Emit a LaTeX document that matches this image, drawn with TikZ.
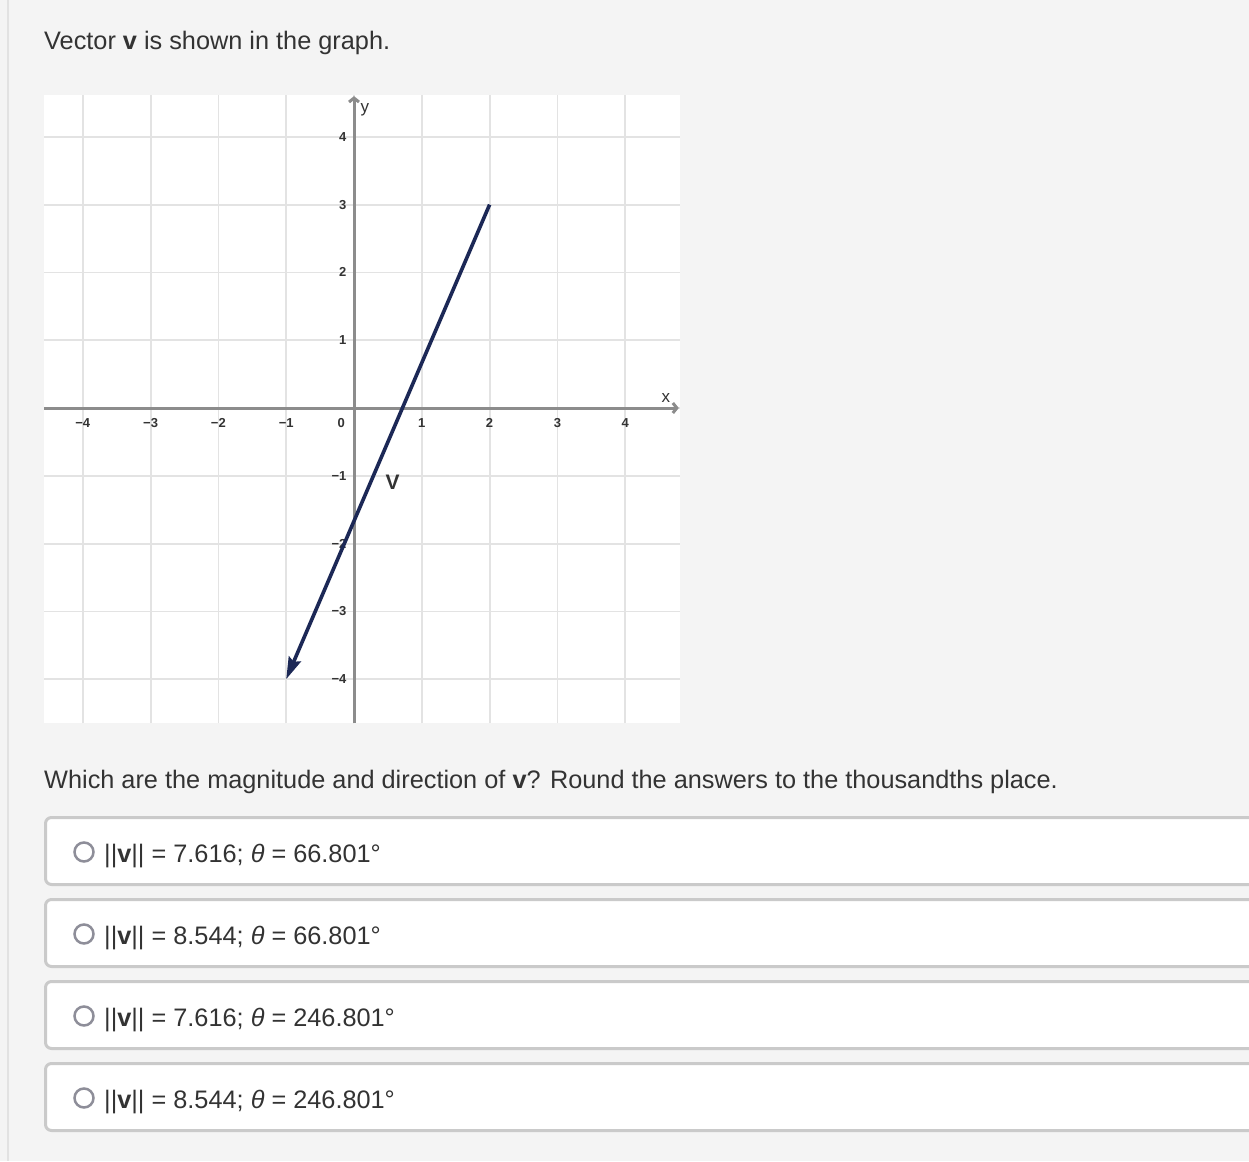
\documentclass[tikz,border=0pt]{standalone}
\usepackage{fontspec}
\setmainfont{Liberation Sans}
\usetikzlibrary{arrows.meta}
\definecolor{pagebg}{HTML}{F4F4F4}
\definecolor{pageedge}{HTML}{E2E2E2}
\definecolor{txt}{HTML}{333333}
\definecolor{gridgray}{HTML}{E3E3E3}
\definecolor{axisgray}{HTML}{8C8C8C}
\definecolor{vecblue}{HTML}{1C2856}
\definecolor{boxline}{HTML}{CACACA}
\definecolor{radiogray}{HTML}{8E8E99}
\begin{document}
\begin{tikzpicture}[x=1pt,y=-1pt,
  every node/.style={text=txt,inner sep=0pt},
  big/.style={font=\fontsize{25.3}{29}\selectfont},
  tick/.style={font=\fontsize{13}{13}\selectfont\bfseries},
  gridline/.style={gridgray,line width=1.8pt},
  axisline/.style={axisgray,line width=3pt},
  vec/.style={vecblue,line width=3.6pt,-{Stealth[length=22pt,width=13pt,inset=3pt]}},
  answer/.style={draw=boxline,line width=3pt,fill=white,rounded corners=6pt},
  radio/.style={draw=radiogray,line width=2.5pt,fill=white,circle,minimum size=19pt}]
\useasboundingbox(0,0)rectangle(1249,1161);
\clip(0,0)rectangle(1249,1161);
\fill[pagebg](0,0)rectangle(1249,1161);
\draw[pageedge,line width=1.5pt](8,0)--(8,1161);
%
\node[big,anchor=base west](title)at(44,50){Vector \textbf{v} is shown in the graph.};
%
\begin{scope}[shift={(354,408)},x=67.8pt,y=67.8pt]
\fill[white](-4.57,-4.65)rectangle(4.81,4.62);
\foreach \k in {-4,...,4}{
  \draw[gridline](\k,-4.65)--(\k,4.62);
  \draw[gridline](-4.57,\k)--(4.81,\k);
}
\coordinate(xs)at(-4.57,0);
\coordinate(xe)at(4.79,0);
\coordinate(ys)at(0,-4.65);
\coordinate(ye)at(0,4.6);
\draw[axisline,-{Straight Barb[length=4pt,width=10pt]}](xs)--(xe);
\draw[axisline,-{Straight Barb[length=4pt,width=10pt]}](ys)--(ye);
\node[font=\fontsize{17}{17}\selectfont](xlab)at(4.6,0.15){x};
\node[font=\fontsize{17}{17}\selectfont](ylab)at(0.16,4.4){y};
%
\foreach \k/\s in {-4/−4,-3/−3,-2/−2,-1/−1,1/1,2/2,3/3,4/4}{
  \node[tick](xt\k)at(\k,-0.22){\s};
  \node[tick,anchor=east](yt\k)at(-0.11,\k){\s};
}
\node[tick](orig)at(-0.19,-0.22){0};
%
\coordinate(tail)at(2,3);
\coordinate(head)at(-1,-4);
\draw[vec](tail)--(head);
\node[font=\fontsize{21}{21}\selectfont\bfseries](vlab)at(0.57,-1.1){V};
\end{scope}
%
\node[big,anchor=base west](question)at(44,788){Which are the magnitude and direction of \textbf{v}? Round the answers to the thousandths place.};
%
\foreach \i/\m/\t in {1/7.616/66.801,2/8.544/66.801,3/7.616/246.801,4/8.544/246.801}{
  \pgfmathsetmacro\top{816+82*(\i-1)}
  \draw[answer](45.5,\top+1.5)rectangle(1270,\top+68.5);
  \node[radio](radio\i)at(84,\top+36){};
  \node[big,anchor=base west](ans\i)at(104,\top+46){||\textbf{v}|| = \m; \textit{θ} = \t°};
}
\end{tikzpicture}
\end{document}
